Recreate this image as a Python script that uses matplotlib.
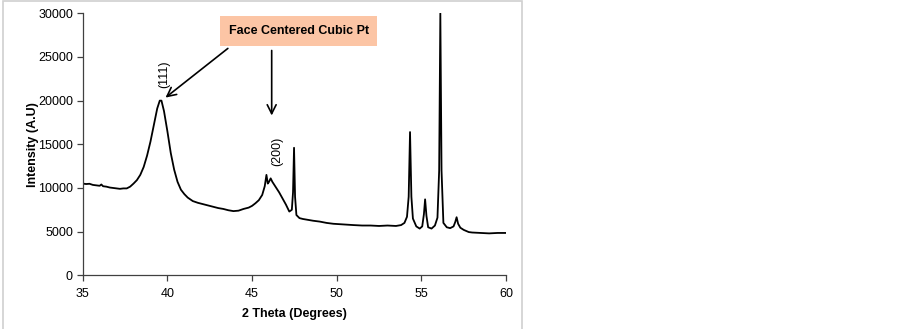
import matplotlib
matplotlib.use("Agg")
import matplotlib.pyplot as plt
from matplotlib.patches import Rectangle

plt.rcParams["font.family"] = ["Liberation Sans", "DejaVu Sans"]

# XRD pattern
two_theta = [35.0, 35.2, 35.4, 35.6, 35.8, 36.0, 36.1, 36.2, 36.4, 36.6, 36.8, 37.0,
             37.2, 37.4, 37.6, 37.8, 38.0, 38.2, 38.4, 38.6, 38.8, 39.0, 39.2, 39.4,
             39.55, 39.65, 39.8, 40.0, 40.2, 40.4, 40.6, 40.8, 41.0, 41.2, 41.5, 41.8,
             42.0, 42.3, 42.6, 43.0, 43.3, 43.6, 43.9, 44.2, 44.5, 44.8, 45.0, 45.2,
             45.4, 45.6, 45.75, 45.85, 45.93, 46.0, 46.1, 46.2, 46.4, 46.6, 46.8, 47.0,
             47.2, 47.35, 47.42, 47.48, 47.54, 47.62, 47.8, 48.0, 48.3, 48.6, 49.0, 49.4,
             49.8, 50.2, 50.6, 51.0, 51.5, 52.0, 52.5, 53.0, 53.5, 53.8, 54.0, 54.15,
             54.25, 54.33, 54.41, 54.5, 54.7, 54.9, 55.05, 55.15, 55.22, 55.3, 55.4, 55.6,
             55.8, 55.95, 56.05, 56.12, 56.19, 56.3, 56.5, 56.7, 56.9, 57.0, 57.08, 57.17,
             57.3, 57.5, 57.8, 58.0, 58.5, 59.0, 59.5, 60.0]
intensity = [10500, 10450, 10480, 10350, 10300, 10250, 10400, 10200, 10150, 10050, 10000, 9950,
             9900, 9950, 9950, 10150, 10500, 10900, 11500, 12400, 13700, 15300, 17200, 19100,
             20000, 20000, 18800, 16500, 14000, 12100, 10700, 9800, 9300, 8900, 8500, 8300,
             8200, 8050, 7900, 7700, 7600, 7450, 7350, 7400, 7600, 7750, 7950, 8250,
             8600, 9200, 10200, 11500, 10500, 10700, 11100, 10700, 10100, 9500, 8800, 8100,
             7300, 7500, 9500, 14600, 9000, 6900, 6550, 6450, 6350, 6250, 6150, 6000,
             5900, 5850, 5800, 5750, 5700, 5700, 5650, 5700, 5650, 5750, 6000, 6700,
             9000, 16400, 9000, 6500, 5600, 5350, 5600, 7000, 8700, 6800, 5500, 5350,
             5700, 6600, 12000, 30000, 12000, 6000, 5500, 5400, 5600, 6100, 6650, 5900,
             5450, 5200, 4950, 4900, 4850, 4800, 4850, 4850]

fig = plt.figure(figsize=(9.03, 3.29), dpi=100)
ax = fig.add_axes([0.0916, 0.1632, 0.4688, 0.7964])

ax.plot(two_theta, intensity, color="black", lw=1.3)

ax.set_xlim(35, 60)
ax.set_ylim(0, 30000)
ax.set_xticks([35, 40, 45, 50, 55, 60])
ax.set_yticks(range(0, 30001, 5000))
ax.spines["top"].set_visible(False)
ax.spines["right"].set_visible(False)
for s in ("left", "bottom"):
    ax.spines[s].set_color("#404040")
    ax.spines[s].set_linewidth(0.9)
ax.tick_params(direction="out", length=4, width=0.9, color="#404040",
               labelsize=9, pad=3)
ax.tick_params(axis="x", pad=5)
ax.set_xlabel("2 Theta (Degrees)", fontsize=9, fontweight="bold", labelpad=6)
ax.set_ylabel("Intensity (A.U)", fontsize=9, fontweight="bold", labelpad=-1)

# annotations
ax.text(47.75, 27970, "Face Centered Cubic Pt", fontsize=9, fontweight="bold",
        ha="center", va="center",
        bbox=dict(boxstyle="square,pad=0.7", fc="#fcc5a5", ec="none"))
arrow = dict(arrowstyle="->", color="black", lw=1.2, mutation_scale=16)
ax.annotate("", xy=(39.76, 20150), xytext=(43.7, 26175), arrowprops=arrow)
ax.annotate("", xy=(46.16, 17980), xytext=(46.16, 26060), arrowprops=arrow)
ax.text(39.8, 23050, "(111)", rotation=90, fontsize=9, ha="center", va="center")
ax.text(46.46, 14150, "(200)", rotation=90, fontsize=9, ha="center", va="center")

# chart border
fig.patches.append(Rectangle((0.003, -0.01), 0.575, 1.007, transform=fig.transFigure,
                             fill=False, ec="#d0d0d0", lw=1.2))

fig.savefig("out.png", dpi=100)
